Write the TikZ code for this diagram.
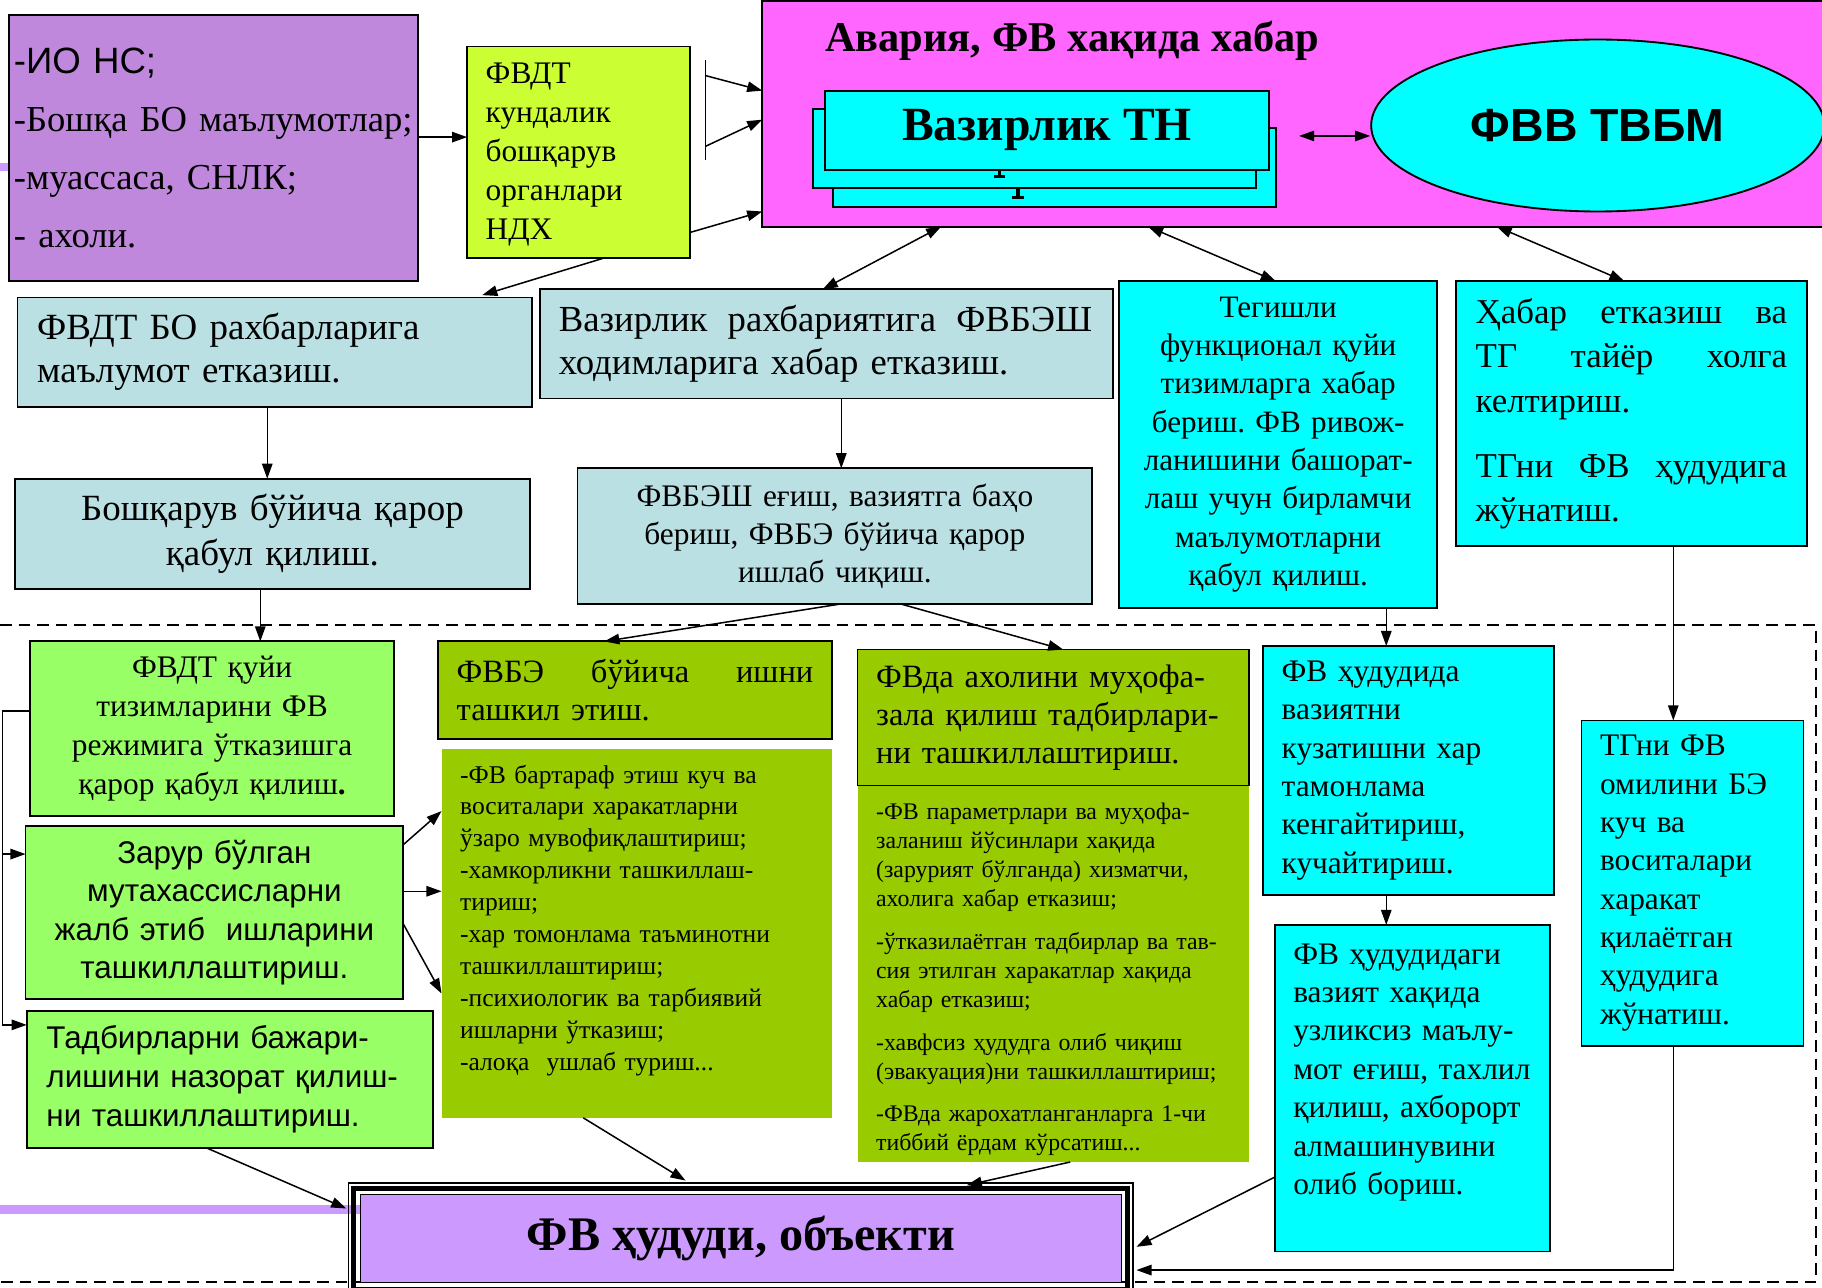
\documentclass[tikz,border=0pt]{standalone}
\usepackage{fontspec}
\setmainfont{Liberation Serif}
\setsansfont{Liberation Sans}
\usetikzlibrary{arrows.meta,shapes.geometric,calc}
\newcommand\fs[2]{\fontsize{#1}{#2}\selectfont}
\newcommand\jl[2]{\makebox[#1][s]{\spaceskip=0pt\xspaceskip=0pt\relax #2}}
\definecolor{cPur}{HTML}{BF88DC}
\definecolor{cYel}{HTML}{CCFF33}
\definecolor{cMag}{HTML}{FF66FF}
\definecolor{cCy}{HTML}{00FFFF}
\definecolor{cLB}{HTML}{BBE0E3}
\definecolor{cGr}{HTML}{99FF66}
\definecolor{cOl}{HTML}{99CC00}
\definecolor{cBot}{HTML}{CC99FF}
\definecolor{cLav}{HTML}{CC99FF}
\begin{document}
\frenchspacing
\begin{tikzpicture}[x=1pt,y=-1pt,
  bx/.style={draw=black, line width=1.6pt, rectangle, inner ysep=0pt, outer sep=0pt},
  nb/.style={rectangle, inner ysep=0pt, outer sep=0pt},
  arr/.style={-{Triangle[length=13pt,width=9pt]}, line width=1.3pt},
  darr/.style={{Triangle[length=13pt,width=9pt]}-{Triangle[length=13pt,width=9pt]}, line width=1.3pt},
  ln/.style={line width=1.3pt}]
\useasboundingbox (0,0) rectangle (1568,1108);
\fill[white] (0,0) rectangle (1568,1108);

% dashed frame
\draw[line width=1.6pt, dash pattern=on 10pt off 6pt] (0,538) -- (1563,538) -- (1563,1103) -- (0,1103);

% top left
\fill[cLav] (0,140) rectangle (8,147);
\node[bx, fill=cPur, minimum width=352pt, minimum height=229pt, text width=344pt, inner xsep=4pt, align=left, font=\fs{31.5}{50}] (P1) at (184,127.5)
 {\textsf{-ИО НС;}\\-Бошқа БО маълумотлар;\\-муассаса, СНЛК;\\- ахоли.};
\node[bx, fill=cYel, minimum width=192pt, minimum height=182pt, text width=160pt, inner xsep=16pt, align=left, font=\fs{27}{33.5}] (Y) at (498,131)
 {\rule{0pt}{22pt}ФВДТ\\кундалик\\бошқарув\\органлари\\НДХ};

% magenta block
\node[bx, fill=cMag, minimum width=919pt, minimum height=194pt] (M) at (1115.5,98) {};
\node[anchor=west, inner sep=0pt, font=\bfseries\fs{36.5}{44}] (MT) at (710,35) {Авария, ФВ хақида хабар};
\node[bx, fill=cCy, minimum width=381pt, minimum height=68pt] (VZ3) at (907.5,144) {};
\fill (874.5,162) rectangle (877.5,171);
\fill (871,169) rectangle (881,171);
\node[bx, fill=cCy, minimum width=381pt, minimum height=68pt] (VZ2) at (890.5,128) {};
\fill (858.5,146) rectangle (861.5,153);
\fill (855,151) rectangle (865,153);
\node[bx, fill=cCy, minimum width=382pt, minimum height=68pt, font=\bfseries\fs{41}{48}] (VZ1) at (901,112) {Вазирлик ТН};
\node[ellipse, draw=black, line width=1.6pt, fill=cCy, minimum width=390pt, minimum height=148pt, inner sep=0pt, font=\sffamily\bfseries\fs{40}{48}] (ELL) at (1375,108) {ФВВ ТВБМ};
\draw[darr] ($(VZ1.east)+(26,5)$) -- ($(ELL.west)+(0,9)$);

% bracket and arrows into magenta
\coordinate (brA) at (607,52);
\coordinate (brB) at (607,138);
\coordinate (br1) at (607,65);
\coordinate (br2) at (607,126);
\draw[ln] (brA) -- (brB);
\draw[arr] (br1) -- (M.west |- 0,78);
\draw[arr] (br2) -- (M.west |- 0,103);
\draw[arr] (Y.east |- 0,200) -- (M.west |- 0,182);
\draw[arr] (P1.east |- 0,118) -- (Y.west |- 0,118);

% light blue boxes
\node[bx, fill=cLB, minimum width=443pt, minimum height=94pt, text width=409pt, inner xsep=17pt, align=left, font=\fs{31.8}{37}] (B1) at (236.5,303)
 {ФВДТ БО рахбарларига\\маълумот етказиш.};
\node[bx, fill=cLB, minimum width=493pt, minimum height=94pt, text width=461pt, inner xsep=16pt, align=left, font=\fs{31.6}{37}] (B2) at (711.5,296)
 {\jl{459pt}{Вазирлик рахбариятига ФВБЭШ}\\ходимларига хабар етказиш.};
\node[bx, fill=cLB, minimum width=443pt, minimum height=95pt, text width=420pt, inner xsep=11.5pt, align=center, font=\fs{31.8}{39}] (B3) at (234.5,459.5)
 {Бошқарув бўйича қарор\\қабул қилиш.};
\node[bx, fill=cLB, minimum width=443pt, minimum height=117pt, text width=420pt, inner xsep=11.5pt, align=center, font=\fs{27}{33}] (B4) at (718.5,461.5)
 {ФВБЭШ еғиш, вазиятга баҳо\\бериш, ФВБЭ бўйича қарор\\ишлаб чиқиш.};

% cyan boxes top right
\node[bx, fill=cCy, minimum width=274pt, minimum height=281pt, text width=258pt, inner xsep=8pt, align=center, font=\fs{26.8}{33}] (C1) at (1100,382.5)
 {Тегишли\\функционал қуйи\\тизимларга хабар\\бериш. ФВ ривож-\\ланишини башорат-\\лаш учун бирламчи\\маълумотларни\\қабул қилиш.};
\node[bx, fill=cCy, minimum width=302pt, minimum height=228pt, text width=268pt, inner xsep=17pt, align=left, font=\fs{30}{38.5}] (C2) at (1404,356)
 {\jl{268pt}{Ҳабар етказиш ва}\\\jl{268pt}{ТГ тайёр холга}\\келтириш.\\[17pt]\jl{268pt}{ТГни ФВ ҳудудига}\\жўнатиш.};

% arrows from top block
\draw[darr] (M.south -| 810,0) -- (B2.north -| 708,0);
\draw[darr] (M.south -| 988,0) -- (C1.north -| 1098,0);
\draw[darr] (M.south -| 1288,0) -- (C2.north -| 1398,0);
\draw[arr] (Y.south -| 520,0) -- ($(B1.north -| 415,0)+(0,-2)$);
\draw[arr] (B1.south -| 230,0) -- (B3.north -| 230,0);
\draw[arr] (B2.south -| 724,0) -- (B4.north -| 724,0);

% green boxes left
\node[bx, fill=cGr, minimum width=313pt, minimum height=150pt, text width=297pt, inner xsep=8pt, align=center, font=\fs{27}{33.5}] (G1) at (182.5,627)
 {ФВДТ қуйи\\тизимларини ФВ\\режимига ўтказишга\\қарор қабул қилиш\textbf{.}};
\node[bx, fill=cGr, minimum width=325pt, minimum height=149pt, text width=309pt, inner xsep=8pt, align=center, font=\sffamily\fs{27}{33}] (G2) at (184.5,785.5)
 {Зарур бўлган\\мутахассисларни\\жалб этиб\ \ ишларини\\ташкиллаштириш.};
\node[bx, fill=cGr, minimum width=350pt, minimum height=118pt, text width=316pt, inner xsep=17pt, align=left, font=\sffamily\fs{27}{33.5}] (G3) at (198,929)
 {Тадбирларни бажари-\\лишини назорат қилиш-\\ни ташкиллаштириш.};
\draw[arr] (B3.south -| 224,0) -- (G1.north -| 224,0);
\coordinate (busT) at (2,612);
\coordinate (busB) at (2,882);
\draw[ln] (G1.west |- busT) -- (busT) -- (busB);
\draw[arr] (busT |- 0,735) -- (G2.west |- 0,735);
\draw[arr] (busB) -- (G3.west |- busB);

% olive boxes
\node[nb, fill=cOl, minimum width=336pt, minimum height=317pt, text width=304pt, inner xsep=16pt, align=left, font=\fs{22}{27.5}] (L4) at (548,803.5)
 {-ФВ бартараф этиш куч ва\\воситалари харакатларни\\ўзаро мувофиқлаштириш;\\-хамкорликни ташкиллаш-\\тириш;\\-хар томонлама таъминотни\\ташкиллаштириш;\\-психиологик ва тарбиявий\\ишларни ўтказиш;\\-алоқа\ \ ушлаб туриш...\\~};
\node[bx, fill=cOl, minimum width=339pt, minimum height=84pt, text width=307pt, inner xsep=16pt, align=left, font=\fs{28}{33}] (H4) at (546.5,594)
 {\jl{307pt}{ФВБЭ бўйича ишни}\\ташкил этиш.};
\node[nb, fill=cOl, minimum width=337pt, minimum height=324pt, text width=305pt, inner xsep=16pt, align=left, font=\fs{20.5}{25}] (L5) at (906.5,838)
 {\rule{0pt}{24pt}-ФВ параметрлари ва муҳофа-\\заланиш йўсинлари хақида\\(зарурият бўлганда) хизматчи,\\ахолига хабар етказиш;\\[12pt]-ўтказилаётган тадбирлар ва тав-\\сия этилган харакатлар хақида\\хабар етказиш;\\[12pt]-хавфсиз ҳудудга олиб чиқиш\\(эвакуация)ни ташкиллаштириш;\\[11pt]-ФВда жарохатланганларга 1-чи\\тиббий ёрдам кўрсатиш...};
\node[bx, fill=cOl, minimum width=337pt, minimum height=117pt, text width=305pt, inner xsep=16pt, align=left, font=\fs{28}{33}] (H5) at (906.5,617.5)
 {ФВда ахолини муҳофа-\\зала қилиш тадбирлари-\\ни ташкиллаштириш.};
\draw[arr] (B4.south -| 722,0) -- (H4.north -| 520,0);
\draw[arr] (B4.south -| 776,0) -- (H5.north -| 915,0);
\draw[arr] (G2.east |- 0,727) -- (L4.west |- 0,698);
\draw[arr] (G2.east |- 0,767) -- (L4.west |- 0,767);
\draw[arr] (G2.east |- 0,795) -- (L4.west |- 0,855);

% cyan boxes lower right
\node[bx, fill=cCy, minimum width=250pt, minimum height=214pt, text width=218pt, inner xsep=16pt, align=left, font=\fs{27}{33}] (C5) at (1212,663)
 {ФВ ҳудудида\\вазиятни\\кузатишни хар\\тамонлама\\кенгайтириш,\\кучайтириш.};
\node[bx, fill=cCy, minimum width=237pt, minimum height=281pt, text width=205pt, inner xsep=16pt, align=left, font=\fs{27}{33}] (C6) at (1215.5,936.5)
 {ФВ ҳудудидаги\\вазият хақида\\узликсиз маълу-\\мот еғиш, тахлил\\қилиш, ахборорт\\алмашинувини\\олиб бориш.\\~};
\node[bx, fill=cCy, minimum width=191pt, minimum height=280pt, text width=159pt, inner xsep=16pt, align=left, font=\fs{27}{33}] (CT) at (1456.5,760)
 {ТГни ФВ\\омилини БЭ\\куч ва\\воситалари\\харакат\\қилаётган\\ҳудудига\\жўнатиш.};
\draw[arr] (C1.south -| 1193,0) -- (C5.north -| 1193,0);
\draw[arr] (C5.south -| 1193,0) -- (C6.north -| 1193,0);
\draw[arr] (C2.south -| 1440,0) -- (CT.north -| 1440,0);

% bottom target box
\coordinate (lavL) at (0,1041);
\node[bx, fill=cBot, line width=1pt, minimum width=655pt, minimum height=76pt, font=\bfseries\fs{41.5}{48}] (BOT) at (637.5,1066) {ФВ ҳудуди, объекти};
\draw[line width=8pt, cLav] (lavL) -- (BOT.west |- lavL);
\draw[line width=4.5pt] ($(BOT.north west)+(-5.5,-5.5)$) rectangle ($(BOT.south east)+(5.5,5.5)$);
\draw[line width=1pt] ($(BOT.north west)+(-10,-10)$) rectangle ($(BOT.south east)+(10,10)$);

\draw[arr] (G3.south -| 178,0) -- ($(BOT.north west)+(-12,12)$);
\draw[arr] (L4.south -| 502,0) -- ($(BOT.north -| 590,0)+(0,-12)$);
\draw[arr] (L5.south -| 921,0) -- ($(BOT.north -| 832,0)+(0,-8)$);
\draw[arr] (C6.west |- 0,1013) -- ($(BOT.east |- 0,1073)+(13,0)$);
\draw[arr] (CT.south -| 1440,0) |- ($(BOT.east |- 0,1093)+(13,0)$);
\end{tikzpicture}
\end{document}
